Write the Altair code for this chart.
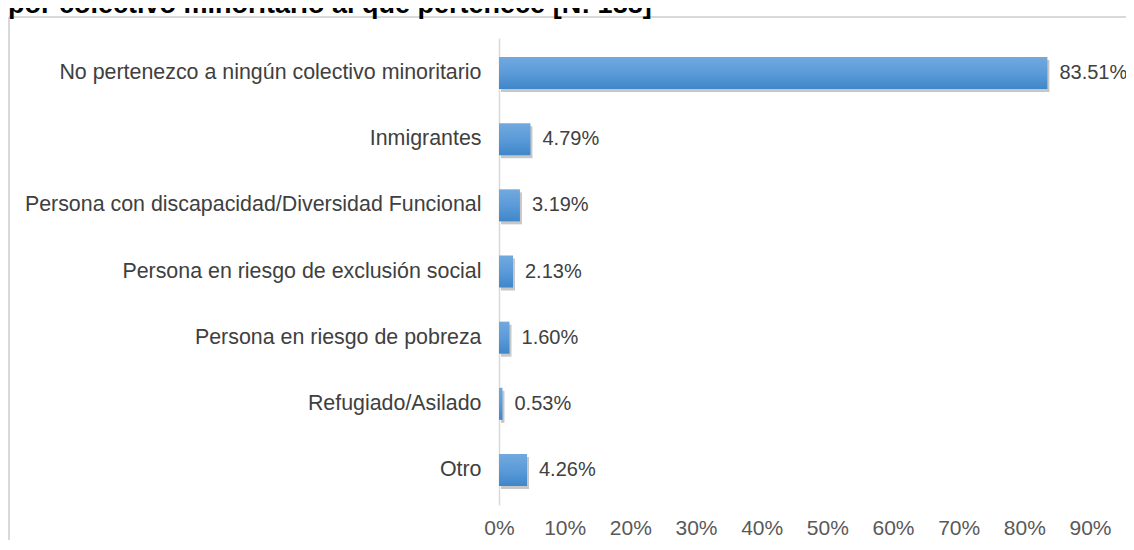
import altair as alt
import pandas as pd

categories = [
    "No pertenezco a ningún colectivo minoritario",
    "Inmigrantes",
    "Persona con discapacidad/Diversidad Funcional",
    "Persona en riesgo de exclusión social",
    "Persona en riesgo de pobreza",
    "Refugiado/Asilado",
    "Otro",
]
values = [83.51, 4.79, 3.19, 2.13, 1.60, 0.53, 4.26]
tick_values = [0, 10, 20, 30, 40, 50, 60, 70, 80, 90]
title_text = "por colectivo minoritario al que pertenece [N: 188]"

df = pd.DataFrame({"cat": categories, "v": values})

FONT = "Liberation Sans"
W, H = 591, 467
PAD_L, PAD_T, PAD_R, PAD_B = 491, 30, 36, 35

xscale = alt.Scale(domain=[0, 90], nice=False, zero=True)
yscale = alt.Scale(paddingInner=0.516, paddingOuter=0.287)

x_enc = alt.X(
    "v:Q",
    scale=xscale,
    axis=alt.Axis(
        values=tick_values,
        labelExpr="datum.value + '%'",
        grid=False,
        domain=False,
        ticks=False,
        labelFlush=False,
        labelOverlap=False,
        labelFontSize=21,
        labelColor="#595959",
        labelFont=FONT,
        labelPadding=12,
        title=None,
    ),
)
y_enc = alt.Y(
    "cat:N",
    sort=categories,
    scale=yscale,
    axis=alt.Axis(
        title=None,
        ticks=False,
        domain=True,
        domainColor="#d9d9d9",
        domainWidth=1.5,
        labelFontSize=21.4,
        labelColor="#404040",
        labelFont=FONT,
        labelPadding=18,
        labelLimit=700,
    ),
)

base = alt.Chart(df)

shadow = base.mark_bar(color="#000000", opacity=0.22, xOffset=2, yOffset=3).encode(
    x=x_enc, y=y_enc
)

bars = base.mark_bar(
    color=alt.Gradient(
        gradient="linear",
        x1=0, y1=0, x2=0, y2=1,
        stops=[
            alt.GradientStop(color="#72a9de", offset=0),
            alt.GradientStop(color="#5b9bd9", offset=0.5),
            alt.GradientStop(color="#3f86c9", offset=1),
        ],
    )
).encode(x=x_enc, y=y_enc)

labels = base.transform_calculate(
    lab="format(datum.v, '.2f') + '%'"
).mark_text(
    align="left", baseline="middle", dx=12, fontSize=20, font=FONT, color="#404040"
).encode(
    x=x_enc,
    y=y_enc,
    text="lab:N",
)

frame_top = base.transform_filter("datum.v == 83.51").mark_rule(
    color="#d9d9d9", strokeWidth=2
).encode(
    x=alt.value(-PAD_L + 1), x2=alt.value(W + PAD_R), y=alt.value(-PAD_T + 9)
)
frame_left = base.transform_filter("datum.v == 83.51").mark_rule(
    color="#d9d9d9", strokeWidth=2
).encode(
    x=alt.value(-PAD_L + 1), y=alt.value(-PAD_T + 9), y2=alt.value(H + PAD_B)
)

title_df = pd.DataFrame({"t": [title_text]})
title = alt.Chart(title_df).mark_text(
    align="left", baseline="alphabetic", fontSize=27, fontWeight="bold",
    font=FONT, color="#000000"
).encode(
    x=alt.value(-PAD_L), y=alt.value(-PAD_T + 5), text="t:N"
)

chart = alt.layer(shadow, bars, labels, frame_top, frame_left, title).properties(
    width=W,
    height=H,
    padding={"left": PAD_L, "top": PAD_T, "right": PAD_R, "bottom": PAD_B},
    autosize=alt.AutoSizeParams(type="none"),
    background="white",
).configure_view(stroke=None)

chart.save("out.html", embed_options={"renderer": "svg", "actions": False})
